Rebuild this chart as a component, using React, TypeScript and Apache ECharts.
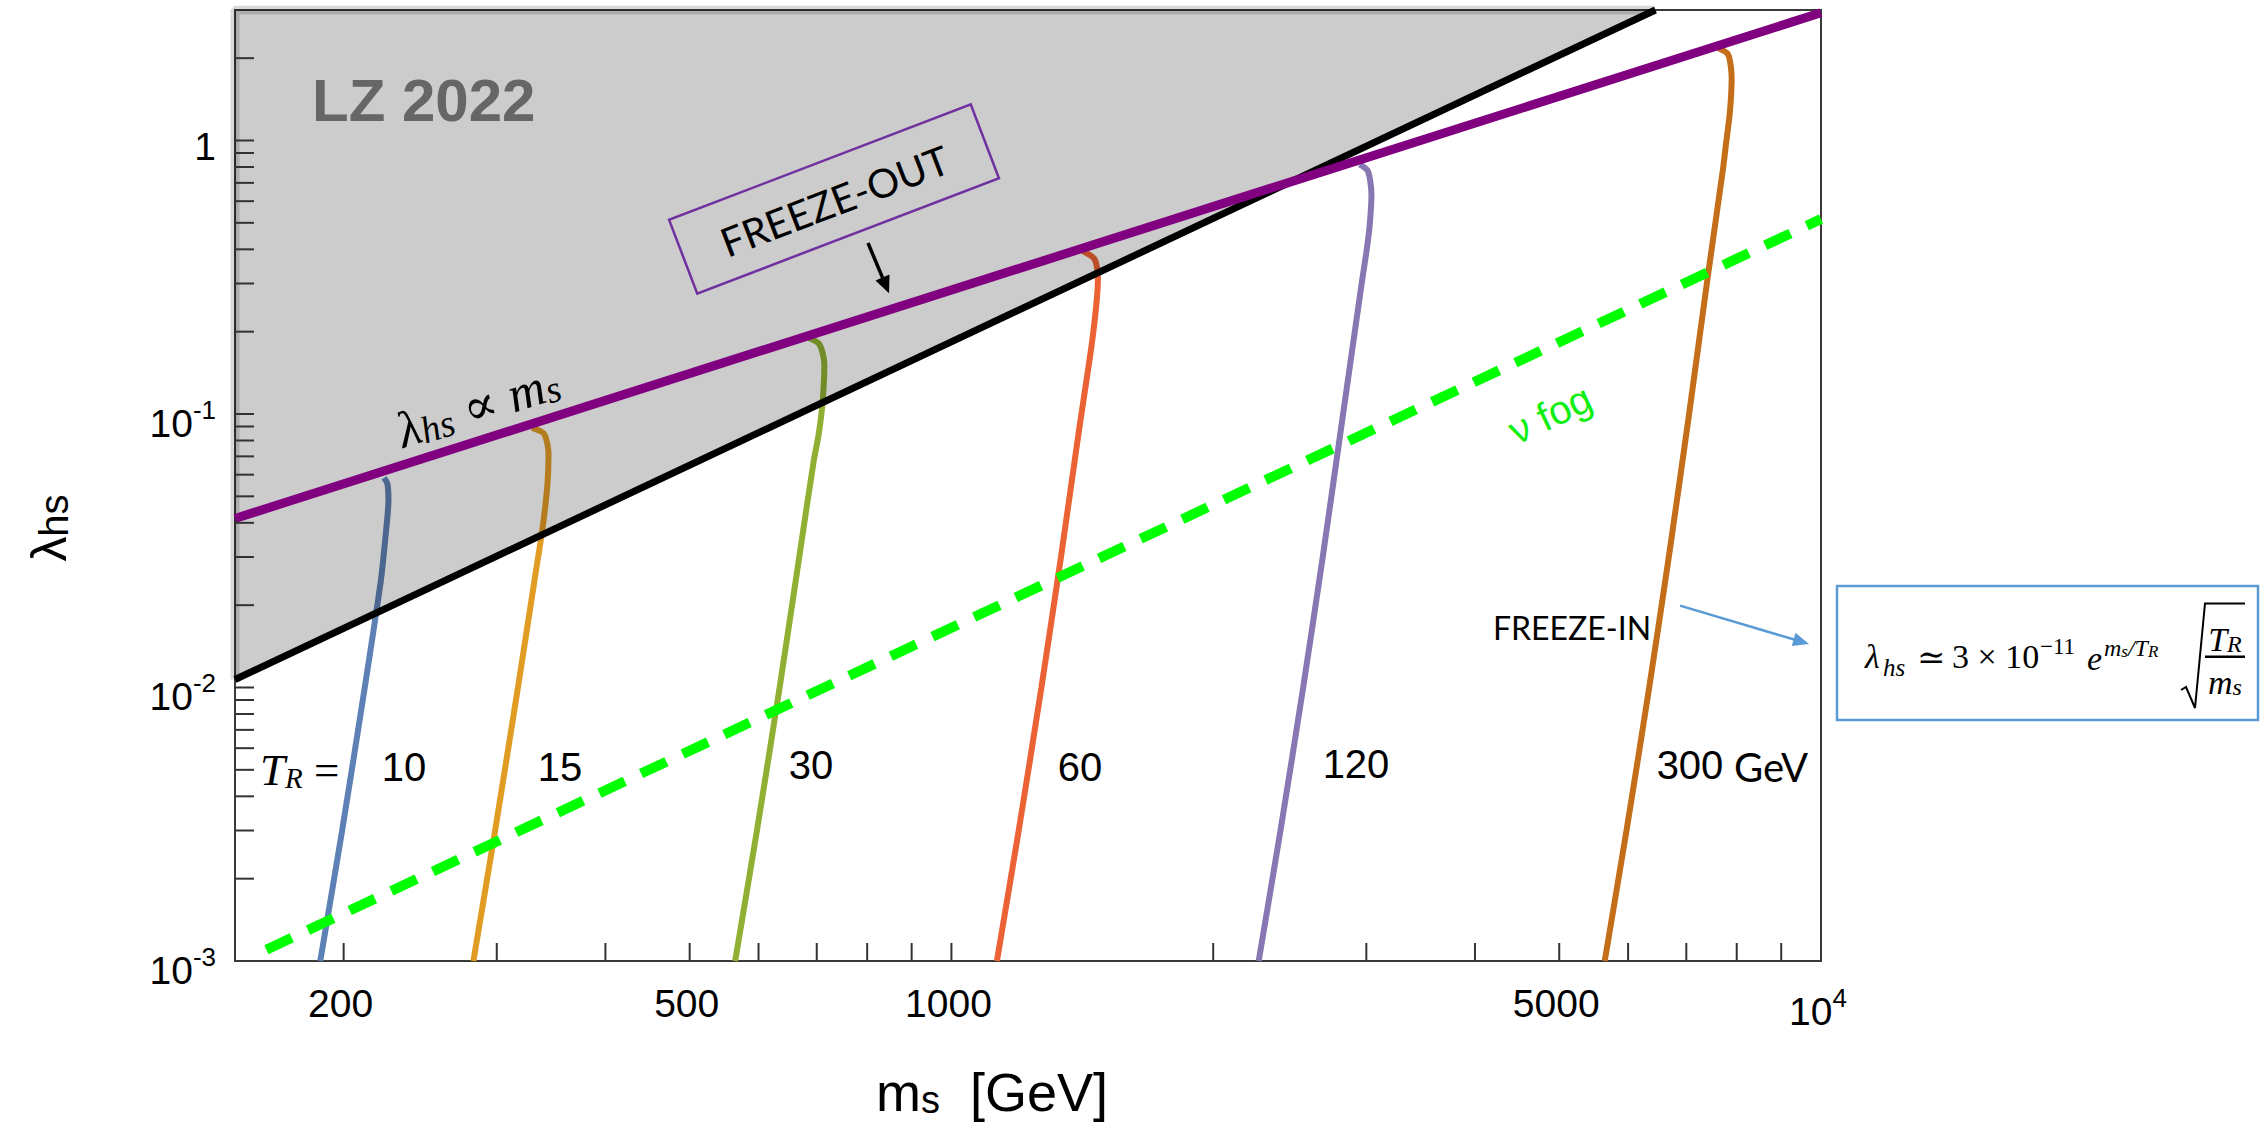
import React, { useEffect, useRef } from "react";
import * as echarts from "echarts";

// ---------- axis ranges ----------
const xRange = [150, 10000];
const yRange = [0.001, 3];

// ---------- boundary lines (m_s [GeV], lambda_hs) ----------
const lzBoundary = [[150, 0.0107], [6450, 3]];
const lzFrameEdge = [[150, 0.0107], [150, 3], [6450, 3]];
const freezeOutLine = [[150, 0.0415], [10000, 2.93]];
const neutrinoFog = [[163, 0.0011], [10000, 0.516]];

// ---------- freeze-in curves for each T_R ----------
const trValues = ["10", "15", "30", "60", "120", "300"];
const trColors = ["#5E81B5", "#E19C24", "#8FB032", "#EB6235", "#8778B3", "#C56E1A"];
const curveTR10 = [[188, 0.001], [199.2, 0.003], [211.5, 0.01], [220.7, 0.0246], [223.6, 0.0365], [225.2, 0.0483], [224.6, 0.0555], [222.6, 0.0584]];
const curveTR15 = [[282, 0.001], [298.7, 0.003], [317.3, 0.01], [331.5, 0.0246], [338.8, 0.0386], [343.1, 0.0555], [344.1, 0.0715], [340.1, 0.0845], [329.3, 0.0889]];
const curveTR30 = [[564, 0.001], [597.5, 0.003], [634.5, 0.01], [668.3, 0.03], [694.5, 0.0675], [703.7, 0.0845], [711.1, 0.1118], [714.3, 0.1522], [704.8, 0.18], [683.3, 0.1904]];
const curveTR60 = [[1128, 0.001], [1195, 0.003], [1269, 0.01], [1336.5, 0.03], [1400, 0.0847], [1441, 0.1565], [1455, 0.1959], [1469, 0.2592], [1474, 0.315], [1461, 0.3679], [1416, 0.3945]];
const curveTR120 = [[2256, 0.001], [2390, 0.003], [2538, 0.01], [2673, 0.03], [2821, 0.1], [2966, 0.3065], [2998, 0.3837], [3025, 0.4798], [3041, 0.6352], [3013, 0.7726], [2948, 0.8176]];
const curveTR300 = [[5640, 0.001], [5975, 0.003], [6345, 0.01], [6683, 0.03], [7052, 0.1], [7425, 0.3334], [7708, 0.7726], [7775, 0.967], [7858, 1.279], [7893, 1.692], [7822, 2.06], [7617, 2.178]];
const curves = [curveTR10, curveTR15, curveTR30, curveTR60, curveTR120, curveTR300];

// ---------- ticks & labels ----------
const xTickValues = [200, 300, 400, 500, 600, 700, 800, 900, 1000, 2000, 3000, 4000, 5000, 6000, 7000, 8000, 9000];
const yTickValues = [0.002, 0.003, 0.004, 0.005, 0.006, 0.007, 0.008, 0.009, 0.01, 0.02, 0.03, 0.04, 0.05, 0.06, 0.07, 0.08, 0.09, 0.1, 0.2, 0.3, 0.4, 0.5, 0.6, 0.7, 0.8, 0.9, 1, 2];
const xLabelValues = [200, 500, 1000, 5000, 10000];
const xLabelTexts = ["200", "500", "1000", "5000", "{b|10}{s|4}"];
const yLabelValues = [0.001, 0.01, 0.1, 1];
const yLabelTexts = ["{b|10}{s|-3}", "{b|10}{s|-2}", "{b|10}{s|-1}", "1"];

const SANS = "'Liberation Sans', Arial, sans-serif";
const SERIF = "'Liberation Serif', 'DejaVu Serif', serif";
const CAL = "Lato, 'Open Sans', sans-serif";

const tickRich = {
  b: { fontFamily: SANS, fontSize: 39, color: "#000", lineHeight: 46, verticalAlign: "bottom" },
  s: { fontFamily: SANS, fontSize: 26, color: "#000", lineHeight: 24, verticalAlign: "top" },
};

function tickSeries(data: number[][], dir: "x" | "y") {
  return {
    type: "custom",
    coordinateSystem: "cartesian2d",
    silent: true,
    clip: false,
    z: 30,
    data,
    renderItem: (params: any, api: any) => {
      const p = api.coord([api.value(0), api.value(1)]);
      const shape =
        dir === "x"
          ? { x1: p[0], y1: p[1], x2: p[0], y2: p[1] - 18 }
          : { x1: p[0], y1: p[1], x2: p[0] + 19, y2: p[1] };
      return { type: "line", shape, style: { stroke: "#333", lineWidth: 2 } };
    },
  };
}

function txt(x: number, y: number, text: string, style: any, extra: any = {}) {
  return {
    type: "text",
    x,
    y,
    z: 100,
    ...extra,
    style: { text, fill: "#000", align: "center", verticalAlign: "middle", ...style },
  };
}

export default function App() {
  const ref = useRef<HTMLDivElement>(null);

  useEffect(() => {
    if (!ref.current) return;
    const chart = echarts.init(ref.current, null, { renderer: "svg" });

    const curveSeries = curves.map((c, i) => ({
      type: "line",
      name: "T_R = " + trValues[i],
      data: c,
      smooth: 0.25,
      showSymbol: false,
      z: 2,
      lineStyle: { color: trColors[i], width: 6 },
    }));

    const option: any = {
      animation: false,
      backgroundColor: "#fff",
      grid: {
        left: 235,
        top: 10,
        width: 1586,
        height: 951,
        show: true,
        borderColor: "#3a3a3a",
        borderWidth: 2,
        backgroundColor: "transparent",
      },
      xAxis: {
        type: "log",
        logBase: 10,
        min: xRange[0],
        max: xRange[1],
        axisLine: { show: false },
        axisTick: { show: false },
        axisLabel: { show: false },
        splitLine: { show: false },
      },
      yAxis: {
        type: "log",
        logBase: 10,
        min: yRange[0],
        max: yRange[1],
        axisLine: { show: false },
        axisTick: { show: false },
        splitLine: { show: false },
        axisLabel: {
          margin: 19,
          fontFamily: SANS,
          fontSize: 39,
          color: "#000",
          padding: [12, 0, 0, 0],
          showMaxLabel: false,
          rich: tickRich,
          formatter: (v: number) => {
            const lv = Math.log10(v);
            for (let i = 0; i < yLabelValues.length; i++) {
              if (Math.abs(lv - Math.log10(yLabelValues[i])) < 1e-6) return yLabelTexts[i];
            }
            return "";
          },
        },
      },
      series: [
        ...curveSeries,
        {
          type: "line",
          name: "LZ 2022",
          data: lzBoundary,
          showSymbol: false,
          z: 3,
          lineStyle: { color: "#000", width: 7 },
          areaStyle: { origin: "end", color: "rgba(0,0,0,0.2)", opacity: 1 },
        },
        {
          type: "line",
          name: "LZ edge",
          data: lzFrameEdge,
          showSymbol: false,
          z: 3,
          lineStyle: { color: "rgba(0,0,0,0.15)", width: 9 },
        },
        {
          type: "line",
          name: "nu fog",
          data: neutrinoFog,
          showSymbol: false,
          z: 4,
          lineStyle: { color: "#00ff00", width: 10, type: [28, 18], cap: "butt" },
        },
        {
          type: "line",
          name: "freeze-out",
          data: freezeOutLine,
          showSymbol: false,
          z: 5,
          lineStyle: { color: "#800080", width: 9 },
        },
        tickSeries(xTickValues.map((v) => [v, yRange[0]]), "x"),
        tickSeries(yTickValues.map((v) => [xRange[0], v]), "y"),
        {
          type: "custom",
          coordinateSystem: "cartesian2d",
          silent: true,
          clip: false,
          z: 30,
          data: xLabelValues.map((v) => [v, yRange[0]]),
          renderItem: (params: any, api: any) => {
            const p = api.coord([api.value(0), api.value(1)]);
            const t = xLabelTexts[params.dataIndex];
            const isSup = t.indexOf("{") >= 0;
            return {
              type: "text",
              x: p[0] - 3,
              y: p[1] + (isSup ? 47 : 42),
              style: {
                text: t,
                fontFamily: SANS,
                fontSize: 39,
                fill: "#000",
                align: "center",
                verticalAlign: "middle",
                rich: tickRich,
              },
            };
          },
        },
      ],
      graphic: [
        // axis titles
        txt(46, 528, "{a|λ}{b|hs}", {
          rich: {
            a: { fontFamily: SANS, fontSize: 50, lineHeight: 56, verticalAlign: "bottom", color: "#222" },
            b: { fontFamily: SANS, fontSize: 40, lineHeight: 44, verticalAlign: "bottom", color: "#222" },
          },
        }, { rotation: Math.PI / 2 }),
        txt(992, 1092, "{a|m}{b|s}{a|  [GeV]}", {
          rich: {
            a: { fontFamily: SANS, fontSize: 54, lineHeight: 54, verticalAlign: "bottom", color: "#111" },
            b: { fontFamily: SANS, fontSize: 38, lineHeight: 40, verticalAlign: "bottom", color: "#111" },
          },
        }),
        // region label
        txt(312, 100, "LZ 2022", { fontFamily: SANS, fontWeight: "bold", fontSize: 60, fill: "#666", align: "left" }),
        // freeze-out box
        {
          type: "group",
          x: 834,
          y: 199,
          rotation: 0.365,
          z: 100,
          children: [
            { type: "rect", z: 100, shape: { x: -161.5, y: -39.5, width: 323, height: 79 }, style: { fill: "none", stroke: "#7030a0", lineWidth: 2.5 } },
            { type: "text", z: 100, x: 0, y: 2, style: { text: "FREEZE-OUT", fontFamily: CAL, fontSize: 40, fill: "#000", align: "center", verticalAlign: "middle" } },
          ],
        },
        { type: "line", z: 100, shape: { x1: 868, y1: 243, x2: 882.5, y2: 277.6 }, style: { stroke: "#000", lineWidth: 3.5 } },
        { type: "polygon", z: 100, shape: { points: [[889, 293.3], [889.5, 274.5], [875.5, 280.5]] }, style: { fill: "#000" } },
        // proportionality label
        txt(477, 403, "{a|λ}{b|hs}{a| ∝ m}{b|s}", {
          rich: {
            a: { fontFamily: SERIF, fontStyle: "italic", fontSize: 51, lineHeight: 58, verticalAlign: "bottom", color: "#000" },
            b: { fontFamily: SERIF, fontStyle: "italic", fontSize: 38, lineHeight: 48, verticalAlign: "bottom", color: "#000" },
          },
        }, { rotation: 0.31 }),
        // T_R labels
        txt(260, 767, "{a|T}{b|R}{c| = }", {
          align: "left",
          rich: {
            a: { fontFamily: SERIF, fontStyle: "italic", fontSize: 45, lineHeight: 50, verticalAlign: "bottom", color: "#000" },
            b: { fontFamily: SERIF, fontStyle: "italic", fontSize: 29, lineHeight: 36, verticalAlign: "bottom", color: "#000" },
            c: { fontFamily: SERIF, fontSize: 45, lineHeight: 50, verticalAlign: "bottom", color: "#000" },
          },
        }),
        txt(404, 767, trValues[0], { fontFamily: SANS, fontSize: 40 }),
        txt(560, 767, trValues[1], { fontFamily: SANS, fontSize: 40 }),
        txt(811, 765, trValues[2], { fontFamily: SANS, fontSize: 40 }),
        txt(1080, 767, trValues[3], { fontFamily: SANS, fontSize: 40 }),
        txt(1356, 764, trValues[4], { fontFamily: SANS, fontSize: 40 }),
        txt(1690, 765, trValues[5], { fontFamily: SANS, fontSize: 40 }),
        txt(1734, 767, "GeV", { fontFamily: CAL, fontSize: 40, align: "left" }),
        // neutrino fog label
        txt(1550, 414, "ν fog", { fontFamily: SANS, fontSize: 40, fill: "#11ee11" }, { rotation: 0.44 }),
        // freeze-in label & arrow
        txt(1572, 627, "FREEZE-IN", { fontFamily: CAL, fontSize: 32 }),
        { type: "line", z: 100, shape: { x1: 1680, y1: 605.6, x2: 1794, y2: 639.5 }, style: { stroke: "#5b9bd5", lineWidth: 2.5 } },
        { type: "polygon", z: 100, shape: { points: [[1809, 644], [1791.8, 646], [1795.5, 632.8]] }, style: { fill: "#5b9bd5" } },
        // formula box
        { type: "rect", z: 100, shape: { x: 1837, y: 586, width: 421, height: 134 }, style: { fill: "#fff", stroke: "#5b9bd5", lineWidth: 2.5 } },
        txt(1865, 656, "λ", { fontFamily: SERIF, fontStyle: "italic", fontSize: 34, align: "left" }),
        txt(1883, 667, "hs", { fontFamily: SERIF, fontStyle: "italic", fontSize: 25, align: "left" }),
        txt(1917, 657, "≃", { fontFamily: SERIF, fontSize: 34, align: "left" }),
        txt(1952, 656, "3 × 10", { fontFamily: SERIF, fontSize: 34, align: "left" }),
        txt(2040, 646, "−11", { fontFamily: SERIF, fontSize: 23, align: "left" }),
        txt(2087, 658, "e", { fontFamily: SERIF, fontStyle: "italic", fontSize: 34, align: "left" }),
        txt(2104, 646, "{a|m}{b|s}{a|/T}{b|R}", {
          align: "left",
          rich: {
            a: { fontFamily: SERIF, fontStyle: "italic", fontSize: 24, lineHeight: 28, verticalAlign: "bottom", color: "#000" },
            b: { fontFamily: SERIF, fontStyle: "italic", fontSize: 17, lineHeight: 22, verticalAlign: "bottom", color: "#000" },
          },
        }),
        { type: "polyline", z: 100, shape: { points: [[2181, 690], [2186, 687], [2195, 708], [2205, 603.5], [2245, 603.5]] }, style: { stroke: "#000", lineWidth: 2, fill: "none" } },
        txt(2225, 636, "{a|T}{b|R}", {
          rich: {
            a: { fontFamily: SERIF, fontStyle: "italic", fontSize: 34, lineHeight: 40, verticalAlign: "bottom", color: "#000" },
            b: { fontFamily: SERIF, fontStyle: "italic", fontSize: 24, lineHeight: 30, verticalAlign: "bottom", color: "#000" },
          },
        }),
        { type: "line", z: 100, shape: { x1: 2205, y1: 656.7, x2: 2245, y2: 656.7 }, style: { stroke: "#000", lineWidth: 2.5 } },
        txt(2225, 679, "{a|m}{b|s}", {
          rich: {
            a: { fontFamily: SERIF, fontStyle: "italic", fontSize: 34, lineHeight: 40, verticalAlign: "bottom", color: "#000" },
            b: { fontFamily: SERIF, fontStyle: "italic", fontSize: 24, lineHeight: 30, verticalAlign: "bottom", color: "#000" },
          },
        }),
      ],
    };

    chart.setOption(option);
    return () => chart.dispose();
  }, []);

  return (
    <div
      ref={ref}
      style={{ position: "fixed", left: 0, top: 0, width: "2261px", height: "1124px", background: "#fff" }}
    />
  );
}
